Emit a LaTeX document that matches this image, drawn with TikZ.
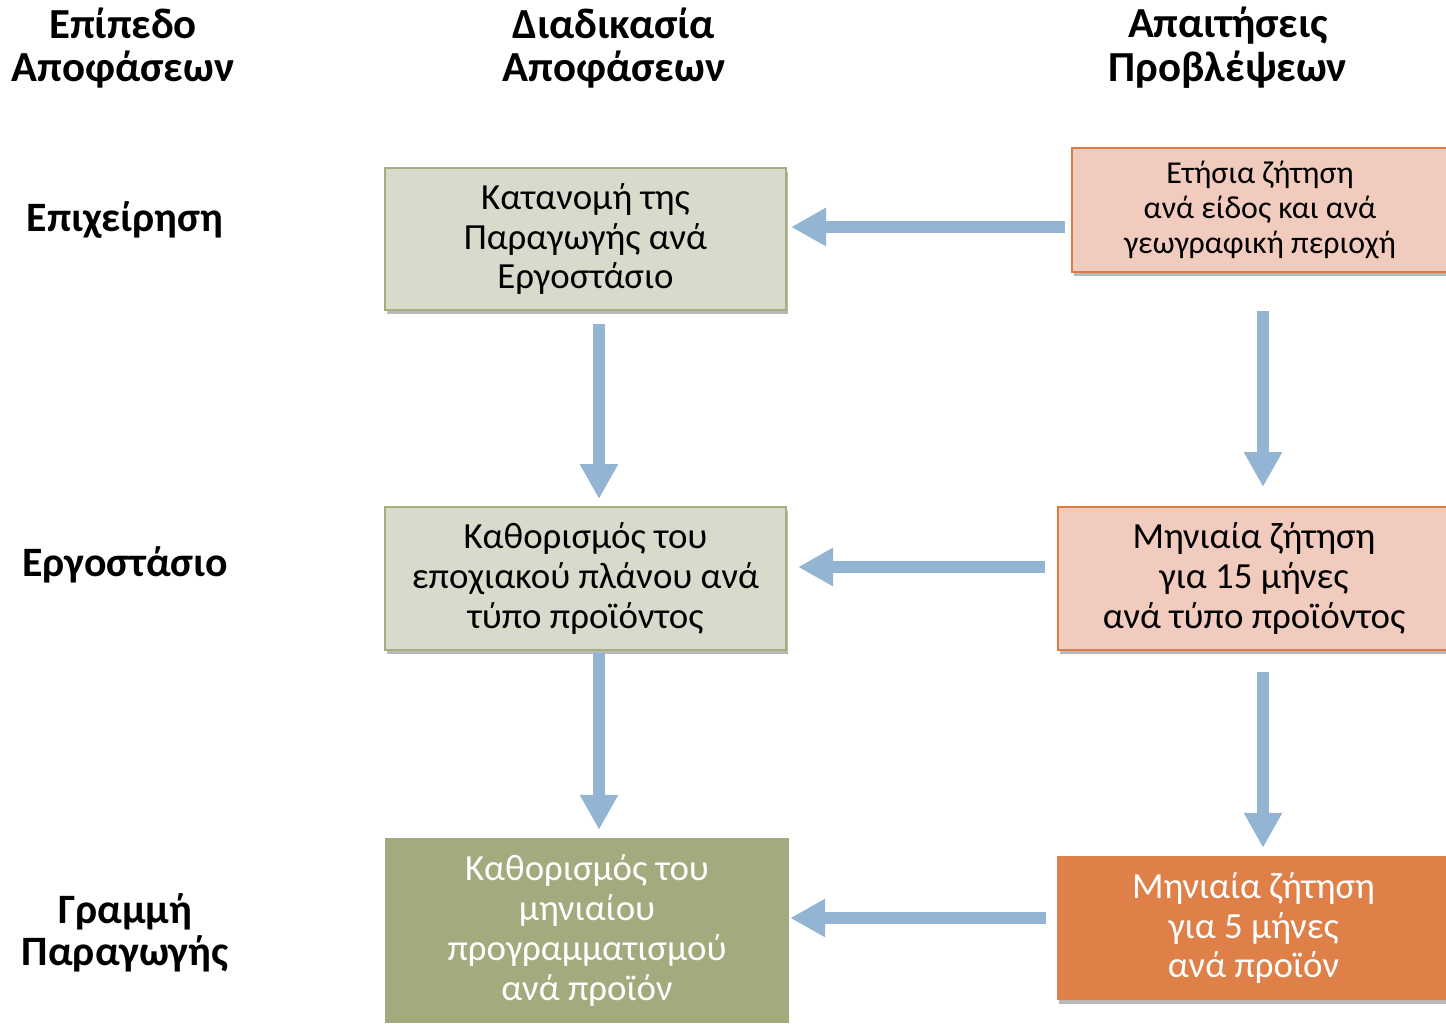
\documentclass[tikz,border=0pt]{standalone}
\usepackage{fontspec}
\setmainfont{Carlito}
\usetikzlibrary{shadows,arrows.meta}

\definecolor{paleolive}{HTML}{D8DBCC}
\definecolor{olivebord}{HTML}{A3B07C}
\definecolor{darkolive}{HTML}{A3AB7E}
\definecolor{paleorange}{HTML}{F0CBBE}
\definecolor{orangebord}{HTML}{E07B3F}
\definecolor{deeporange}{HTML}{DE8048}
\definecolor{arrowblue}{HTML}{94B4D4}

\tikzset{
  x=1bp, y=-1bp,
  header/.style={font=\fontsize{43}{44}\selectfont\bfseries, align=center},
  rowlabel/.style={font=\fontsize{42}{42}\selectfont\bfseries, align=center},
  boxshadow/.style={drop shadow={shadow xshift=2bp, shadow yshift=-4bp, fill=black, opacity=0.28}},
  boxtext/.style={font=\fontsize{37}{40}\selectfont},
  procbox/.style={rectangle, fill=paleolive, draw=olivebord, line width=2bp, align=center,
    boxtext, inner sep=0pt, boxshadow},
  procfinal/.style={rectangle, fill=darkolive, align=center, text=white,
    boxtext, inner sep=0pt},
  fcbox/.style={rectangle, fill=paleorange, draw=orangebord, line width=2bp, align=center,
    boxtext, inner sep=0pt, boxshadow},
  fcfinal/.style={rectangle, fill=deeporange, align=center, text=white,
    boxtext, inner sep=0pt, boxshadow},
  blockarrow/.style={draw=arrowblue, line width=12bp,
    -{Triangle[length=35bp, width=36bp]}}
}

\begin{document}
\begin{tikzpicture}
\useasboundingbox (0,0) rectangle (1446,1023);

% column headers
\node[header] (hlevel) at (123,48) {Επίπεδο\\Αποφάσεων};
\node[header] (hproc)  at (614,48) {Διαδικασία\\Αποφάσεων};
\node[header] (hfc)    at (1228,48) {Απαιτήσεις\\Προβλέψεων};

% row labels
\node[rowlabel] (rcompany) at (125,220) {Επιχείρηση};
\node[rowlabel] (rplant)   at (125,565) {Εργοστάσιο};
\node[rowlabel] (rline)    at (125,933) {Γραμμή\\Παραγωγής};

% decision process column
\node[procbox, minimum width=401bp, minimum height=142bp] (p1) at (585.5,239)
  {Κατανομή της\\Παραγωγής ανά\\Εργοστάσιο};
\node[procbox, minimum width=401bp, minimum height=143bp] (p2) at (585.5,578.5)
  {Καθορισμός του\\εποχιακού πλάνου ανά\\τύπο προϊόντος};
\node[procfinal, minimum width=404bp, minimum height=185bp] (p3) at (587,930.5)
  {Καθορισμός του\\μηνιαίου\\προγραμματισμού\\ανά προϊόν};

% forecast requirements column
\node[fcbox, font=\fontsize{32}{35}\selectfont, minimum width=376bp, minimum height=124bp] (f1) at (1260,210)
  {Ετήσια ζήτηση\\ανά είδος και ανά\\γεωγραφική περιοχή};
\node[fcbox, minimum width=392bp, minimum height=143bp] (f2) at (1254,578.5)
  {Μηνιαία ζήτηση\\για 15 μήνες\\ανά τύπο προϊόντος};
\node[fcfinal, minimum width=393bp, minimum height=144bp] (f3) at (1253.5,928)
  {Μηνιαία ζήτηση\\για 5 μήνες\\ανά προϊόν};

% arrow levels and columns
\coordinate (ya) at (0,227);
\coordinate (yb) at (0,567);
\coordinate (yc) at (0,918);
\coordinate (xl) at (599,0);
\coordinate (xr) at (1263,0);

% forecasts feed the decisions
\draw[blockarrow, shorten <=6bp, shorten >=4bp] (f1.west |- ya) -- (p1.east |- ya);
\draw[blockarrow, shorten <=12bp, shorten >=11bp] (f2.west |- yb) -- (p2.east |- yb);
\draw[blockarrow, shorten <=11bp, shorten >=1bp] (f3.west |- yc) -- (p3.east |- yc);

% decisions cascade downwards
\draw[blockarrow, shorten <=13bp, shorten >=7bp] (p1.south -| xl) -- (p2.north -| xl);
\draw[blockarrow, shorten <=2bp, shorten >=8bp] (p2.south -| xl) -- (p3.north -| xl);

% forecasts cascade downwards
\draw[blockarrow, shorten <=38bp, shorten >=19bp] (f1.south -| xr) -- (f2.north -| xr);
\draw[blockarrow, shorten <=21bp, shorten >=8bp] (f2.south -| xr) -- (f3.north -| xr);
\end{tikzpicture}
\end{document}
